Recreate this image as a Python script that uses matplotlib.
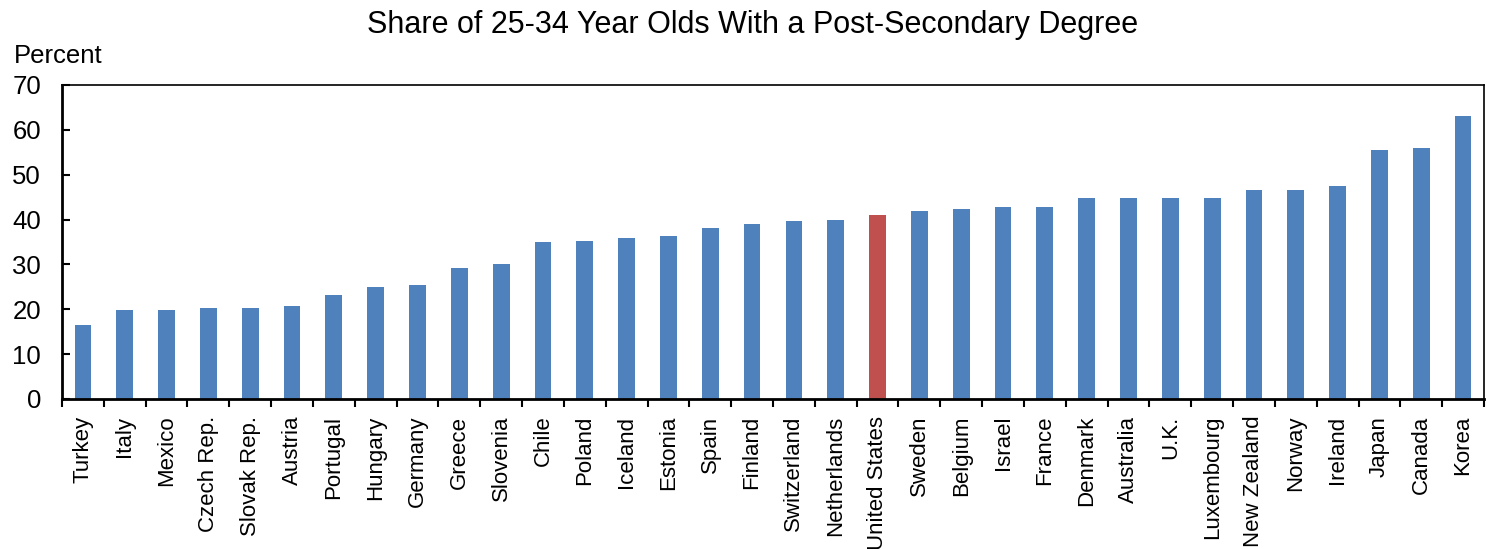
import numpy as np
from matplotlib import pyplot as plt

countries = ['Turkey', 'Italy', 'Mexico', 'Czech Rep.', 'Slovak Rep.', 'Austria',
             'Portugal', 'Hungary', 'Germany', 'Greece', 'Slovenia', 'Chile',
             'Poland', 'Iceland', 'Estonia', 'Spain', 'Finland', 'Switzerland',
             'Netherlands', 'United States', 'Sweden', 'Belgium', 'Israel', 'France',
             'Denmark', 'Australia', 'U.K.', 'Luxembourg', 'New Zealand', 'Norway',
             'Ireland', 'Japan', 'Canada', 'Korea']
share = [16.6, 19.9, 19.9, 20.3, 20.3, 20.8,
         23.2, 25.0, 25.5, 29.2, 30.2, 34.9,
         35.3, 35.8, 36.3, 38.2, 39.1, 39.6,
         40.0, 41.1, 41.9, 42.4, 42.9, 42.9,
         44.8, 44.8, 44.8, 44.8, 46.6, 46.6,
         47.5, 55.5, 56.0, 63.1]
highlight = 'United States'

plt.rcParams['font.family'] = ['Liberation Sans', 'DejaVu Sans']

fig = plt.figure(figsize=(14.87, 5.49), dpi=100)
ax = fig.add_axes([62 / 1487, 1 - 399 / 549, (1484 - 62) / 1487, (399 - 85) / 549])

x = np.arange(len(countries))
colors = ['#c0504d' if c == highlight else '#4f81bd' for c in countries]
ax.bar(x, share, width=0.4, color=colors)

ax.set_xlim(-0.5, len(countries) - 0.5)
ax.set_ylim(0, 70)
ax.set_yticks(range(0, 71, 10))
ax.tick_params(axis='y', direction='in', length=6, width=1.5, labelsize=18.5, pad=15)

# category ticks sit between the bars, labels at the centres
ax.set_xticks(np.arange(-0.5, len(countries), 1.0))
ax.set_xticklabels([])
ax.set_xticks(x, minor=True)
ax.set_xticklabels(countries, minor=True, rotation=90, fontsize=16)
ax.tick_params(axis='x', which='major', direction='out', length=6, width=1.5)
ax.tick_params(axis='x', which='minor', length=0, pad=12)

for side in ['left', 'bottom']:
    ax.spines[side].set_linewidth(2)
for side in ['top', 'right']:
    ax.spines[side].set_linewidth(1.2)

fig.text(753 / 1487, 1 - 25 / 549, 'Share of 25-34 Year Olds With a Post-Secondary Degree',
         ha='center', va='center', fontsize=22)
fig.text(14 / 1487, 1 - 56 / 549, 'Percent', ha='left', va='center', fontsize=18.5)

fig.savefig('out.png', dpi=100)
